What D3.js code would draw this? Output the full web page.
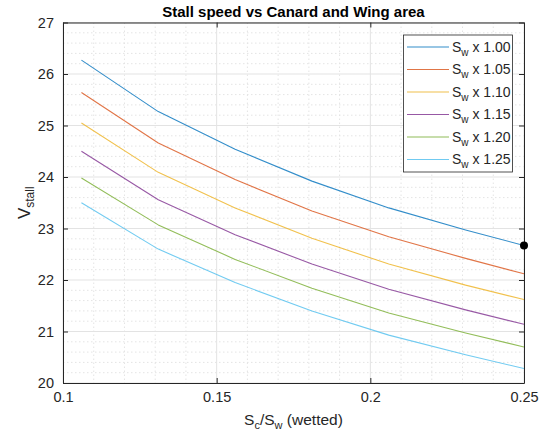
<!DOCTYPE html>
<html><head><meta charset="utf-8">
<script src="https://cdn.jsdelivr.net/npm/d3@7"></script>
<style>
body{margin:0;background:#fff;}
text{font-family:"Liberation Sans",Arial,Helvetica,sans-serif;fill:#262626;}
</style></head>
<body><svg id="c" width="545" height="434"></svg>
<script>
const xValues = [0.106, 0.131, 0.156, 0.181, 0.206, 0.231, 0.25];
const seriesNames = ["1.00","1.05","1.10","1.15","1.20","1.25"];
const sw100 = [26.27, 25.27, 24.54, 23.92, 23.40, 22.97, 22.67];
const sw105 = [25.64, 24.66, 23.95, 23.34, 22.84, 22.42, 22.12];
const sw110 = [25.05, 24.09, 23.40, 22.81, 22.31, 21.90, 21.62];
const sw115 = [24.50, 23.56, 22.88, 22.31, 21.82, 21.42, 21.14];
const sw120 = [23.98, 23.07, 22.40, 21.84, 21.36, 20.97, 20.70];
const sw125 = [23.50, 22.60, 21.95, 21.40, 20.93, 20.55, 20.28];
const seriesValues = [sw100, sw105, sw110, sw115, sw120, sw125];
const xTicks = [0.1, 0.15, 0.2, 0.25];
const yTicks = [20,21,22,23,24,25,26,27];
const markPoint = {x: 0.25, y: 22.67};
const colors = ["#0072BD","#D95319","#EDB120","#7E2F8E","#77AC30","#4DBEEE"];

const svg = d3.select("#c");
const L=63, R=524, T=22.5, B=383;
const x = d3.scaleLinear().domain([0.1,0.25]).range([L,R]);
const y = d3.scaleLinear().domain([20,27]).range([B,T]);

// minor grid
const xMinor = d3.range(0.1,0.2501,0.01).map(v=>+v.toFixed(3)).filter(v=>!xTicks.some(t=>Math.abs(t-v)<1e-6));
const yMinor = d3.range(20,27.001,0.2).map(v=>+v.toFixed(2)).filter(v=>Math.abs(v-Math.round(v))>1e-6);
const g = svg.append("g");
g.selectAll(".xm").data(xMinor).join("line").attr("x1",d=>x(d)).attr("x2",d=>x(d)).attr("y1",T).attr("y2",B)
 .attr("stroke","#e4e4e4").attr("stroke-width",1).attr("stroke-dasharray","1.5,2.5");
g.selectAll(".ym").data(yMinor).join("line").attr("y1",d=>y(d)).attr("y2",d=>y(d)).attr("x1",L).attr("x2",R)
 .attr("stroke","#e4e4e4").attr("stroke-width",1).attr("stroke-dasharray","1.5,2.5");
// major grid
g.selectAll(".xg").data(xTicks).join("line").attr("x1",d=>x(d)).attr("x2",d=>x(d)).attr("y1",T).attr("y2",B)
 .attr("stroke","#e3e3e3").attr("stroke-width",1);
g.selectAll(".yg").data(yTicks).join("line").attr("y1",d=>y(d)).attr("y2",d=>y(d)).attr("x1",L).attr("x2",R)
 .attr("stroke","#e3e3e3").attr("stroke-width",1);

// lines
svg.append("clipPath").attr("id","pc").append("rect").attr("x",L).attr("y",T).attr("width",R-L).attr("height",B-T);
const line = d3.line().x((d,i)=>x(xValues[i])).y(d=>y(d));
svg.append("g").attr("clip-path","url(#pc)").selectAll("path").data(seriesValues).join("path")
 .attr("d",d=>line(d)).attr("fill","none").attr("stroke",(d,i)=>colors[i]).attr("stroke-width",1.1).attr("opacity",0.8)
 .attr("stroke-linejoin","round");

// axes
const fmt = d=>String(d);
const axB = svg.append("g").attr("transform",`translate(0,${B})`).call(d3.axisBottom(x).tickValues(xTicks).tickFormat(fmt).tickSizeInner(-5).tickSizeOuter(0).tickPadding(9));
const axT = svg.append("g").attr("transform",`translate(0,${T})`).call(d3.axisTop(x).tickValues(xTicks).tickFormat("").tickSizeInner(-5).tickSizeOuter(0));
const axL = svg.append("g").attr("transform",`translate(${L},0)`).call(d3.axisLeft(y).tickValues(yTicks).tickFormat(fmt).tickSizeInner(-5).tickSizeOuter(0).tickPadding(9));
const axR = svg.append("g").attr("transform",`translate(${R},0)`).call(d3.axisRight(y).tickValues(yTicks).tickFormat("").tickSizeInner(-5).tickSizeOuter(0));
[axB,axT,axL,axR].forEach(a=>{
  a.select(".domain").attr("stroke","#262626").attr("stroke-width",1);
  a.selectAll(".tick line").attr("stroke","#262626");
  a.selectAll("text").attr("font-size",14.5).attr("fill","#262626").style("font-family","'Liberation Sans',Arial,sans-serif");
});

// marker point
svg.append("circle").attr("cx",x(markPoint.x)).attr("cy",y(markPoint.y)).attr("r",4).attr("fill","#000");

// title
svg.append("text").attr("x",(L+R)/2).attr("y",17).attr("text-anchor","middle").attr("font-size",15).attr("font-weight","bold").style("fill","#000")
 .text("Stall speed vs Canard and Wing area");

// x label
const xl = svg.append("text").attr("x",(L+R)/2).attr("y",425).attr("text-anchor","middle").attr("font-size",15.5);
xl.append("tspan").text("S");
xl.append("tspan").attr("font-size",11).attr("dy",4).text("c");
xl.append("tspan").attr("dy",-4).text("/S");
xl.append("tspan").attr("font-size",11).attr("dy",4).text("w");
xl.append("tspan").attr("dy",-4).text(" (wetted)");

// y label
const yl = svg.append("text").attr("transform",`translate(30,${(T+B)/2}) rotate(-90)`).attr("text-anchor","middle").attr("font-size",17);
yl.append("tspan").text("V");
yl.append("tspan").attr("font-size",12).attr("dy",4).text("stall");

// legend
const lx=403.5, ly=35, lw=109, lh=137;
svg.append("rect").attr("x",lx).attr("y",ly).attr("width",lw).attr("height",lh).attr("fill","#fff").attr("stroke","#262626").attr("stroke-width",0.8);
const leg = svg.selectAll(".leg").data(seriesNames).join("g").attr("transform",(d,i)=>`translate(0,${47+i*22.5})`);
leg.append("line").attr("x1",407).attr("x2",449).attr("stroke",(d,i)=>colors[i]).attr("stroke-width",1.1).attr("opacity",0.8);
const lt = leg.append("text").attr("x",452).attr("y",4.5).attr("font-size",14).style("fill","#262626");
lt.append("tspan").text("S");
lt.append("tspan").attr("font-size",10).attr("dy",4).text("w");
lt.append("tspan").attr("dy",-4).text(d=>" x "+d);
</script></body></html>
